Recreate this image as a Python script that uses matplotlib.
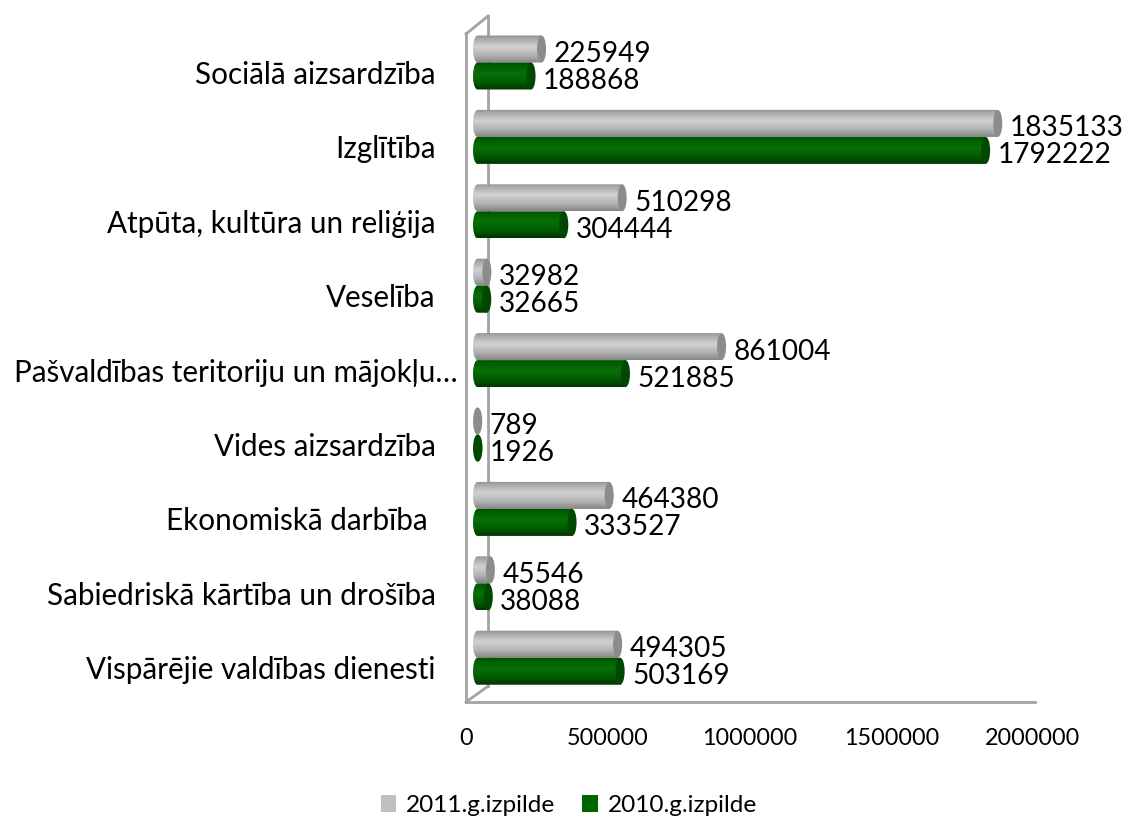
import numpy as np
import matplotlib
matplotlib.use('Agg')
import matplotlib.pyplot as plt
from matplotlib.colors import LinearSegmentedColormap
from matplotlib.patches import Ellipse, Patch, PathPatch
from matplotlib.path import Path
from matplotlib.transforms import ScaledTranslation

categories = ['Sociālā aizsardzība', 'Izglītība', 'Atpūta, kultūra un reliģija', 'Veselība',
              'Pašvaldības teritoriju un mājokļu…', 'Vides aizsardzība', 'Ekonomiskā darbība ',
              'Sabiedriskā kārtība un drošība', 'Vispārējie valdības dienesti']
values_2011 = [225949, 1835133, 510298, 32982, 861004, 789, 464380, 45546, 494305]
values_2010 = [188868, 1792222, 304444, 32665, 521885, 1926, 333527, 38088, 503169]
x_ticks = [0, 500000, 1000000, 1500000, 2000000]

plt.rcParams['font.family'] = ['Lato', 'DejaVu Sans']

W, H = 1124, 816
fig = plt.figure(figsize=(W / 100, H / 100), dpi=100)
# plot box in pixels: 466..1035 across, 16..702 down
ax = fig.add_axes([466 / W, 1 - 702 / H, 569 / W, 686 / H])

px_x = 2000000 / 567  # data units per pixel
px_y = 1 / 74.4
DEPTH = 11.5 * px_x
CAP = 4.5 * px_x
BAR_H = 27 * px_y

gray_cmap = LinearSegmentedColormap.from_list('g', [(0, '#8e8e8e'), (0.12, '#a8a8a8'), (0.42, '#d2d2d2'),
                                                    (0.75, '#b0b0b0'), (1, '#858585')])
green_cmap = LinearSegmentedColormap.from_list('v', [(0, '#005000'), (0.15, '#005f00'), (0.42, '#067006'),
                                                     (0.75, '#005a00'), (1, '#003500')])


def cylinder(y, v, cmap, cap_color):
    # tube with a rounded left end and a darker elliptical right end
    x0, x1 = DEPTH, DEPTH + v
    t = np.linspace(np.pi / 2, 3 * np.pi / 2, 24)
    pts = [(x0 + CAP * np.cos(a), y + BAR_H / 2 * np.sin(a)) for a in t]
    pts += [(x1, y - BAR_H / 2), (x1, y + BAR_H / 2), pts[0]]
    clip = PathPatch(Path(pts), fc='none', ec='none', transform=ax.transData)
    ax.add_patch(clip)
    im = ax.imshow(np.linspace(0, 1, 64).reshape(-1, 1), cmap=cmap, aspect='auto',
                   extent=[x0 - CAP, x1, y + BAR_H / 2, y - BAR_H / 2], zorder=3, interpolation='bilinear')
    im.set_clip_path(clip)
    ax.add_patch(Ellipse((x1, y), 2 * CAP, BAR_H, fc=cap_color, ec='none', zorder=4))


for i in range(len(categories)):
    cylinder(i - BAR_H / 2, values_2011[i], gray_cmap, '#8c8c8c')
    cylinder(i + BAR_H / 2, values_2010[i], green_cmap, '#004700')
    for v, y in ((values_2011[i], i - BAR_H / 2), (values_2010[i], i + BAR_H / 2)):
        ax.annotate(str(v), (DEPTH + v, y), xytext=(12, -5), textcoords='offset pixels',
                    fontsize=20.2, va='center', ha='left', color='black', zorder=5, annotation_clip=False)

ax.set_xlim(0, 569 * px_x)
ax.set_ylim(8.595, -0.625)

ax.set_xticks(x_ticks)
ax.set_xticklabels([str(t) for t in x_ticks], fontsize=16.8)
ax.tick_params(axis='x', length=0, pad=19)
ax.set_yticks(range(len(categories)))
ax.set_yticklabels(categories, fontsize=21.3)
ax.tick_params(axis='y', length=0, pad=22)
for i, lab in enumerate(ax.get_yticklabels()):
    # the long truncated label sits closer to the axis
    dx = 22 if i == 4 else 0
    shift = ScaledTranslation(dx / 100, -10 / 100, fig.dpi_scale_trans)
    lab.set_transform(lab.get_transform() + shift)

# 3d style walls
wall = '#a3a3a3'
for s in ('top', 'right'):
    ax.spines[s].set_visible(False)
ax.spines['bottom'].set_color(wall)
ax.spines['bottom'].set_linewidth(2)
ax.spines['left'].set_color(wall)
ax.spines['left'].set_linewidth(2)
ax.spines['left'].set_bounds(8.595, -0.395)
tr = ax.transAxes
ax.plot([22 / 569, 22 / 569], [0.023, 1], color=wall, lw=2, transform=tr, zorder=1, clip_on=False)
ax.plot([0, 22 / 569], [0, 0.023], color=wall, lw=2, transform=tr, zorder=1, clip_on=False)
ax.plot([0, 22 / 569], [1 - 18 / 686, 1], color=wall, lw=2, transform=tr, zorder=1, clip_on=False)

handles = [Patch(fc='#bfbfbf', ec='none', label='2011.g.izpilde'),
           Patch(fc='#006400', ec='none', label='2010.g.izpilde')]
fig.legend(handles=handles, loc='lower center', bbox_to_anchor=(569 / W, 0.0), ncol=2, frameon=False,
           fontsize=17.6, handlelength=0.65, handleheight=0.65, handletextpad=0.4, columnspacing=1.1,
           borderpad=0, borderaxespad=0)

fig.savefig('out.png', dpi=100)
